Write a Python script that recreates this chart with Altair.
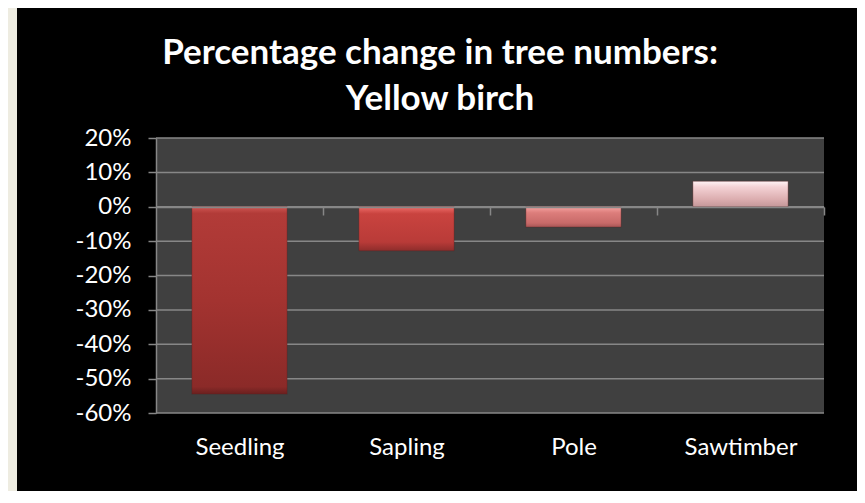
import altair as alt
import pandas as pd

categories = ["Seedling", "Sapling", "Pole", "Sawtimber"]
changes = [-0.545, -0.128, -0.059, 0.074]
y_ticks = [0.2, 0.1, 0.0, -0.1, -0.2, -0.3, -0.4, -0.5, -0.6]
title_lines = ["Percentage change in tree numbers:", "Yellow birch"]

bar_stops = {
    "Seedling": [(0, "#cf5652"), (0.035, "#b23b38"), (0.5, "#a33330"), (0.96, "#8b2a28"), (1, "#6a201f")],
    "Sapling": [(0, "#ee6c68"), (0.16, "#c9433f"), (0.8, "#b93b38"), (1, "#8e2d2b")],
    "Pole": [(0, "#f6a3a1"), (0.3, "#dc7d7b"), (0.8, "#c86a69"), (1, "#a85656")],
    "Sawtimber": [(0, "#fff3f5"), (0.22, "#f4d2d5"), (0.7, "#dcaeb0"), (1, "#c49799")],
}

W, H = 668, 275
GRID = "#878787"
PB = 78
STEP = W / len(categories)

df = pd.DataFrame({"cat": categories, "val": changes})
ticks_df = pd.DataFrame({"v": y_ticks})

x_scale = alt.Scale(domain=categories, paddingInner=0.43, paddingOuter=0.215)
y_scale = alt.Scale(domain=[-0.6, 0.2], nice=False, zero=False)

y_axis = alt.Axis(
    values=y_ticks, labelExpr="replace(format(datum.value, '.0%'), '\u2212', '-')",
    grid=False, domainColor=GRID, domainWidth=1.5, labelOverlap=False,
    tickColor=GRID, tickWidth=1.5, tickSize=8, labelColor="#ffffff",
    labelFont="Lato", labelFontSize=24, labelPadding=17, zindex=1,
)
x_axis = alt.Axis(
    orient="bottom", offset=-206, domain=True, domainColor=GRID, domainWidth=1.5,
    ticks=True, tickOffset=STEP / 2, labelOffset=-STEP / 2, tickColor=GRID,
    tickWidth=1.5, tickSize=8,
    labelColor="#ffffff", labelFont="Lato", labelFontSize=24, labelPadding=220,
    labelAngle=0, grid=False, zindex=1,
)

frame = alt.Chart(alt.Data(values=[{}])).mark_rect(color="#000000").encode(
    x=alt.value(-139), x2=alt.value(704), y=alt.value(-131), y2=alt.value(H + PB)
)
plot_bg = alt.Chart(alt.Data(values=[{}])).mark_rect(color="#404040").encode(
    x=alt.value(0), x2=alt.value(W), y=alt.value(0), y2=alt.value(H)
)
grid = alt.Chart(ticks_df).mark_rule(color=GRID, strokeWidth=1.5).encode(
    y=alt.Y("v:Q", scale=y_scale, title=None, axis=y_axis)
)

bars = []
for i, c in enumerate(categories):
    grad = alt.Gradient(
        gradient="linear",
        stops=[alt.GradientStop(offset=o, color=col) for o, col in bar_stops[c]],
        x1=0, x2=0, y1=0, y2=1,
    )
    b = alt.Chart(df).transform_filter(alt.datum.cat == c).mark_bar(
        fill=grad, stroke="#5a1e1e", strokeWidth=0.6, strokeOpacity=0.6
    ).encode(
        x=alt.X("cat:N", scale=x_scale, sort=categories, title=None, axis=x_axis),
        y=alt.Y("val:Q", scale=y_scale, title=None, axis=y_axis),
    )
    bars.append(b)

chart = alt.layer(frame, plot_bg, grid, *bars).properties(
    width=W, height=H,
    background="#EEECE1",
    padding={"left": 148, "top": 130, "right": 33, "bottom": PB},
    autosize=alt.AutoSizeParams(type="none"),
    title=alt.TitleParams(
        text=title_lines, color="#ffffff", font="Lato", fontSize=35, fontWeight="bold",
        anchor="middle", dx=-50, offset=-110, lineHeight=46,
    ),
).configure_view(stroke=None).configure_axisY(labelOverlap=False)

chart.save("out.html", embed_options={"renderer": "svg", "actions": False})
